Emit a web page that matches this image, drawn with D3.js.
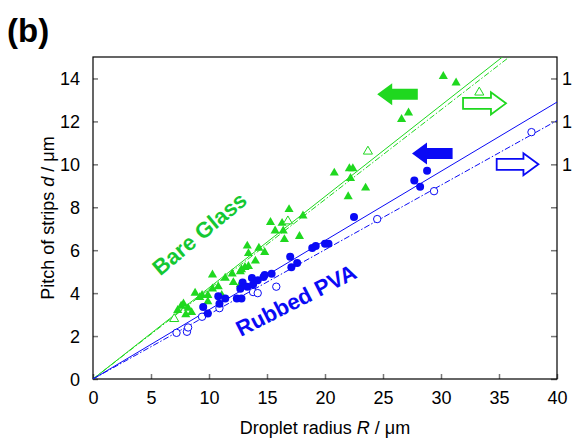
<!DOCTYPE html>
<html>
<head>
<meta charset="utf-8">
<script src="https://cdn.jsdelivr.net/npm/d3@7"></script>
<style>
  body { margin: 0; background: #fff; }
  svg text { font-family: "Liberation Sans", Arial, Helvetica, sans-serif; }
</style>
</head>
<body>
<div id="chart"></div>
<script>
// Bare glass, filled triangles: [R, d]
const glassFilled = [
  [7.3, 3.2], [7.6, 3.4], [7.8, 3.5], [8.2, 3.3], [8.5, 3.1], [8.0, 3.0],
  [8.8, 4.0], [9.2, 3.8], [9.4, 3.9], [9.9, 3.9], [9.9, 3.6], [10.3, 4.2],
  [10.3, 4.85], [10.8, 4.3], [11.1, 3.9], [11.4, 4.7], [12.0, 4.9], [12.1, 4.5],
  [12.7, 4.4], [12.7, 5.0], [12.8, 5.1], [13.1, 5.2], [13.3, 6.2], [13.4, 5.85],
  [13.4, 5.25], [14.0, 5.5], [14.3, 6.1], [14.8, 5.9], [15.3, 7.3], [15.7, 6.9],
  [16.3, 7.26], [16.4, 6.9], [16.5, 6.5], [16.9, 7.9], [17.8, 6.65], [18.1, 7.6],
  [20.8, 9.6], [22.0, 8.5], [22.1, 9.8], [22.2, 9.35], [22.4, 9.8], [23.5, 8.9],
  [26.6, 12.1], [27.2, 12.4], [30.2, 14.1], [31.3, 13.8]
];
// Bare glass, open triangles
const glassOpen = [[7.0, 2.8], [16.8, 7.35], [23.7, 10.6], [33.3, 13.35]];

// Rubbed PVA, filled circles
const pvaFilled = [
  [9.5, 3.35], [9.9, 3.05], [10.8, 3.85], [10.9, 3.5], [11.4, 3.75], [12.4, 3.75],
  [12.8, 3.75], [12.7, 4.2], [12.9, 4.5], [13.3, 4.3], [13.7, 4.7], [13.8, 4.4],
  [14.2, 4.6], [14.7, 4.75], [14.8, 4.85], [15.4, 4.9], [17.0, 5.7], [17.1, 5.2],
  [17.6, 5.4], [18.9, 6.1], [19.2, 6.2], [20.0, 6.3], [20.3, 6.3], [22.5, 7.55],
  [27.7, 9.25], [28.2, 8.95], [28.8, 9.7]
];
// Rubbed PVA, open circles
const pvaOpen = [
  [7.2, 2.15], [8.1, 2.2], [8.2, 2.4], [9.4, 2.9], [10.9, 3.3], [13.8, 4.05],
  [14.2, 4.0], [15.8, 4.3], [24.5, 7.45], [29.4, 8.75], [37.8, 11.5]
];

// Slopes of the fitted lines through the origin
const fitSlopes = [
  { slope: 0.425, color: "green", dash: null },
  { slope: 0.418, color: "green", dash: "6,2,1.5,2" },
  { slope: 0.3225, color: "blue", dash: null },
  { slope: 0.301, color: "blue", dash: "6,2,1.5,2" }
];

// Block arrows: start R, end R, level d (tip at end)
const arrows = [
  { from: 28.0, to: 24.5, d: 13.26, color: "green", filled: true },
  { from: 31.9, to: 35.6, d: 12.84, color: "green", filled: false },
  { from: 31.0, to: 27.5, d: 10.5, color: "blue", filled: true },
  { from: 34.8, to: 38.4, d: 10.0, color: "blue", filled: false }
];

const xTicks = [0, 5, 10, 15, 20, 25, 30, 35, 40];
const yTicks = [0, 2, 4, 6, 8, 10, 12, 14];
// right-hand labels that reach into the page (rest fall off the edge)
const rightLabels = [10, 12, 14];

const colors = { green: "#1fd81f", blue: "#0a0af5" };

const margin = { top: 57, right: 15, bottom: 63, left: 93 };
const width = 572 - margin.left - margin.right;
const height = 442 - margin.top - margin.bottom;

const root = d3.select("#chart")
  .append("svg")
  .attr("width", 572)
  .attr("height", 442);

const svg = root.append("g")
  .attr("transform", `translate(${margin.left},${margin.top})`);

const x = d3.scaleLinear().domain([0, 40]).range([0, width]);
const y = d3.scaleLinear().domain([0, 15]).range([height, 0]);

// Clip for the fitted lines
svg.append("clipPath").attr("id", "plot-clip")
  .append("rect").attr("width", width).attr("height", height);

// Axes: inward grey ticks
const tickColor = "#777";
const bottomAxis = svg.append("g")
  .attr("transform", `translate(0,${height})`)
  .call(d3.axisBottom(x).tickValues(xTicks).tickSizeInner(-5).tickSizeOuter(0).tickPadding(12));
const leftAxis = svg.append("g")
  .call(d3.axisLeft(y).tickValues(yTicks).tickSizeInner(-5).tickSizeOuter(0).tickPadding(13));
const rightAxis = svg.append("g")
  .attr("transform", `translate(${width},0)`)
  .call(d3.axisRight(y).tickValues(yTicks).tickSizeInner(-6).tickSizeOuter(0).tickFormat(""));

[bottomAxis, leftAxis, rightAxis].forEach((g) => {
  g.select(".domain").remove();
  g.selectAll(".tick line").attr("stroke", tickColor).attr("stroke-width", 1.5);
  g.selectAll("text").attr("font-size", 18).attr("fill", "#000")
    .style("font-family", "Liberation Sans, Arial, sans-serif");
});
leftAxis.selectAll("text").attr("dy", "0.35em");

// Right axis labels run off the page, only their first digit shows
rightAxis.selectAll(".tick")
  .filter((d) => rightLabels.includes(d))
  .append("text")
  .attr("x", 25)
  .attr("dy", "0.35em")
  .attr("text-anchor", "end")
  .attr("font-size", 18)
  .attr("fill", "#000")
  .text((d) => d);

// Frame
svg.append("rect")
  .attr("width", width)
  .attr("height", height)
  .attr("fill", "none")
  .attr("stroke", "#000")
  .attr("stroke-width", 1.2);

// Fitted lines
const line = d3.line().x((p) => x(p[0])).y((p) => y(p[1]));
svg.append("g").attr("clip-path", "url(#plot-clip)")
  .selectAll("path")
  .data(fitSlopes)
  .enter()
  .append("path")
  .attr("d", (f) => line([[0, 0], [40, 40 * f.slope]]))
  .attr("fill", "none")
  .attr("stroke", (f) => colors[f.color])
  .attr("stroke-width", 1)
  .attr("stroke-dasharray", (f) => f.dash);

// Triangles
const tri = d3.symbol().type(d3.symbolTriangle).size(36);
svg.append("g").selectAll("path")
  .data(glassFilled)
  .enter()
  .append("path")
  .attr("d", tri)
  .attr("transform", (p) => `translate(${x(p[0])},${y(p[1])})`)
  .attr("fill", colors.green);

svg.append("g").selectAll("path")
  .data(glassOpen)
  .enter()
  .append("path")
  .attr("d", tri)
  .attr("transform", (p) => `translate(${x(p[0])},${y(p[1])})`)
  .attr("fill", "#fff")
  .attr("stroke", colors.green)
  .attr("stroke-width", 1);

// Circles
svg.append("g").selectAll("circle")
  .data(pvaOpen)
  .enter()
  .append("circle")
  .attr("cx", (p) => x(p[0]))
  .attr("cy", (p) => y(p[1]))
  .attr("r", 3.7)
  .attr("fill", "#fff")
  .attr("stroke", colors.blue)
  .attr("stroke-width", 1);

svg.append("g").selectAll("circle")
  .data(pvaFilled)
  .enter()
  .append("circle")
  .attr("cx", (p) => x(p[0]))
  .attr("cy", (p) => y(p[1]))
  .attr("r", 4)
  .attr("fill", colors.blue);

// Block arrows, drawn pointing right then flipped when needed
function arrowPath(len) {
  const head = 15, shaft = 5.5, half = 11;
  return `M0,${-shaft}L${len - head},${-shaft}L${len - head},${-half}L${len},0` +
    `L${len - head},${half}L${len - head},${shaft}L0,${shaft}Z`;
}
svg.append("g").selectAll("path")
  .data(arrows)
  .enter()
  .append("path")
  .attr("d", (a) => arrowPath(Math.abs(x(a.to) - x(a.from))))
  .attr("transform", (a) =>
    `translate(${x(a.from)},${y(a.d)}) scale(${a.to > a.from ? 1 : -1},1)`)
  .attr("fill", (a) => (a.filled ? colors[a.color] : "#fff"))
  .attr("stroke", (a) => colors[a.color])
  .attr("stroke-width", (a) => (a.filled ? 0 : 1.8));

// Labels on the data
svg.append("text")
  .attr("transform", `translate(${x(9.6)},${y(6.5)}) rotate(-40)`)
  .attr("text-anchor", "middle")
  .attr("font-size", 22)
  .attr("font-weight", "bold")
  .attr("fill", "#14c832")
  .text("Bare Glass");

svg.append("text")
  .attr("transform", `translate(${x(17.8)},${y(3.35)}) rotate(-27)`)
  .attr("text-anchor", "middle")
  .attr("font-size", 22)
  .attr("font-weight", "bold")
  .attr("fill", colors.blue)
  .text("Rubbed PVA");

// Axis titles
const xTitle = svg.append("text")
  .attr("x", width / 2)
  .attr("y", height + 55)
  .attr("text-anchor", "middle")
  .attr("font-size", 18);
xTitle.append("tspan").text("Droplet radius ");
xTitle.append("tspan").attr("font-style", "italic").text("R");
xTitle.append("tspan").text(" / μm");

const yTitle = svg.append("text")
  .attr("transform", `translate(-39,${height / 2}) rotate(-90)`)
  .attr("text-anchor", "middle")
  .attr("font-size", 18);
yTitle.append("tspan").text("Pitch of strips ");
yTitle.append("tspan").attr("font-style", "italic").text("d");
yTitle.append("tspan").text(" / μm");

// Panel tag
root.append("text")
  .attr("x", 7)
  .attr("y", 42)
  .attr("font-size", 33)
  .attr("font-weight", "bold")
  .text("(b)");
</script>
</body>
</html>
